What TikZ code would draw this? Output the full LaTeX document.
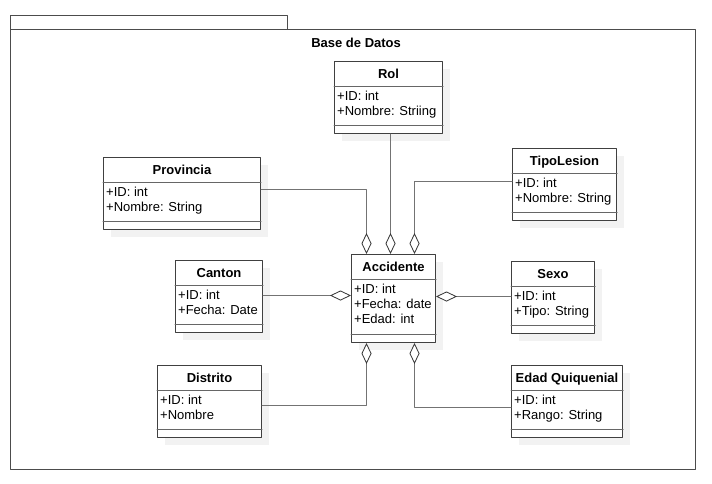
\documentclass[tikz,border=0pt]{standalone}
\usepackage{fontspec}
\setmainfont{Liberation Sans}
\usetikzlibrary{arrows.meta,shadows}
\begin{document}
\begin{tikzpicture}[x=1pt,y=-1pt,line cap=round,line join=round,
    marco/.style={draw=black!70, line width=1.2pt, anchor=north west, inner sep=0pt},
    clase/.style={draw=black!75, line width=1pt, fill=white, anchor=north west, inner sep=0pt,
        drop shadow={shadow xshift=7pt, shadow yshift=-7pt, fill=black!5, opacity=1}},
    titulo/.style={font=\fontsize{13}{15}\selectfont\bfseries, inner sep=0pt, text height=9pt, text depth=0pt},
    attr/.style={font=\fontsize{13}{15}\selectfont, align=left, anchor=north west, inner sep=0pt},
    div/.style={draw=black!60, line width=1pt},
    agreg/.style={draw=black!55, line width=1pt,
        -{Diamond[length=21pt, width=10pt, fill=white, color=black!80, line width=0.8pt]}}]
    \useasboundingbox (0,0) rectangle (712,483);

    % paquete
    \node[marco, minimum width=277pt, minimum height=14pt] (tab) at (10,15) {};
    \node[marco, minimum width=685pt, minimum height=440pt] (bd) at (10,29) {};
    \node[titulo] (bdT) at ([xshift=3pt, yshift=-14pt]bd.north) {Base de Datos};

    % Rol
    \node[clase, minimum width=108pt, minimum height=72pt] (rol) at (334,61) {};
    \node[titulo] (rolT) at ([yshift=-12.5pt]rol.north) {Rol};
    \draw[div] ([yshift=-25pt]rol.north west) -- ([yshift=-25pt]rol.north east);
    \draw[div] ([yshift=9pt]rol.south west) -- ([yshift=9pt]rol.south east);
    \node[attr] (rolA) at ([xshift=3pt, yshift=-30pt]rol.north west) {+ID: int\\+Nombre: Striing};

    % Provincia
    \node[clase, minimum width=157pt, minimum height=72pt] (prov) at (103,157) {};
    \node[titulo] (provT) at ([yshift=-12.5pt]prov.north) {Provincia};
    \draw[div] ([yshift=-25pt]prov.north west) -- ([yshift=-25pt]prov.north east);
    \draw[div] ([yshift=9pt]prov.south west) -- ([yshift=9pt]prov.south east);
    \node[attr] (provA) at ([xshift=3pt, yshift=-30pt]prov.north west) {+ID: int\\+Nombre: String};

    % TipoLesion
    \node[clase, minimum width=104pt, minimum height=72pt] (tipo) at (512,148) {};
    \node[titulo] (tipoT) at ([yshift=-12.5pt]tipo.north) {TipoLesion};
    \draw[div] ([yshift=-25pt]tipo.north west) -- ([yshift=-25pt]tipo.north east);
    \draw[div] ([yshift=9pt]tipo.south west) -- ([yshift=9pt]tipo.south east);
    \node[attr] (tipoA) at ([xshift=3pt, yshift=-30pt]tipo.north west) {+ID: int\\+Nombre: String};

    % Accidente
    \node[clase, minimum width=84pt, minimum height=88pt] (acc) at (351,254) {};
    \node[titulo] (accT) at ([yshift=-12.5pt]acc.north) {Accidente};
    \draw[div] ([yshift=-25pt]acc.north west) -- ([yshift=-25pt]acc.north east);
    \draw[div] ([yshift=9pt]acc.south west) -- ([yshift=9pt]acc.south east);
    \node[attr] (accA) at ([xshift=3pt, yshift=-30pt]acc.north west) {+ID: int\\+Fecha: date\\+Edad: int};

    % Canton
    \node[clase, minimum width=87pt, minimum height=72pt] (canton) at (175,260) {};
    \node[titulo] (cantonT) at ([yshift=-12.5pt]canton.north) {Canton};
    \draw[div] ([yshift=-25pt]canton.north west) -- ([yshift=-25pt]canton.north east);
    \draw[div] ([yshift=9pt]canton.south west) -- ([yshift=9pt]canton.south east);
    \node[attr] (cantonA) at ([xshift=3pt, yshift=-30pt]canton.north west) {+ID: int\\+Fecha: Date};

    % Sexo
    \node[clase, minimum width=83pt, minimum height=72pt] (sexo) at (511,261) {};
    \node[titulo] (sexoT) at ([yshift=-12.5pt]sexo.north) {Sexo};
    \draw[div] ([yshift=-25pt]sexo.north west) -- ([yshift=-25pt]sexo.north east);
    \draw[div] ([yshift=9pt]sexo.south west) -- ([yshift=9pt]sexo.south east);
    \node[attr] (sexoA) at ([xshift=3pt, yshift=-30pt]sexo.north west) {+ID: int\\+Tipo: String};

    % Distrito
    \node[clase, minimum width=104pt, minimum height=72pt] (dist) at (157,365) {};
    \node[titulo] (distT) at ([yshift=-12.5pt]dist.north) {Distrito};
    \draw[div] ([yshift=-25pt]dist.north west) -- ([yshift=-25pt]dist.north east);
    \draw[div] ([yshift=9pt]dist.south west) -- ([yshift=9pt]dist.south east);
    \node[attr] (distA) at ([xshift=3pt, yshift=-30pt]dist.north west) {+ID: int\\+Nombre};

    % Edad Quiquenial
    \node[clase, minimum width=111pt, minimum height=72pt] (edad) at (511,365) {};
    \node[titulo] (edadT) at ([yshift=-12.5pt]edad.north) {Edad Quiquenial};
    \draw[div] ([yshift=-25pt]edad.north west) -- ([yshift=-25pt]edad.north east);
    \draw[div] ([yshift=9pt]edad.south west) -- ([yshift=9pt]edad.south east);
    \node[attr] (edadA) at ([xshift=3pt, yshift=-30pt]edad.north west) {+ID: int\\+Rango: String};

    % agregaciones
    \draw[agreg] ([xshift=2pt]rol.south) -- ([xshift=-3pt]acc.north);
    \draw[agreg] ([yshift=4pt]prov.east) -| ([xshift=-27pt]acc.north);
    \draw[agreg] ([yshift=3pt]tipo.west) -| ([xshift=21pt]acc.north);
    \draw[agreg] ([yshift=1pt]canton.east) -- ([yshift=1pt]canton.east -| acc.west);
    \draw[agreg] ([yshift=1pt]sexo.west) -- ([yshift=1pt]sexo.west -| acc.east);
    \draw[agreg] ([yshift=-4pt]dist.east) -| ([xshift=-27pt]acc.south);
    \draw[agreg] ([yshift=-6pt]edad.west) -| ([xshift=21pt]acc.south);
\end{tikzpicture}
\end{document}
